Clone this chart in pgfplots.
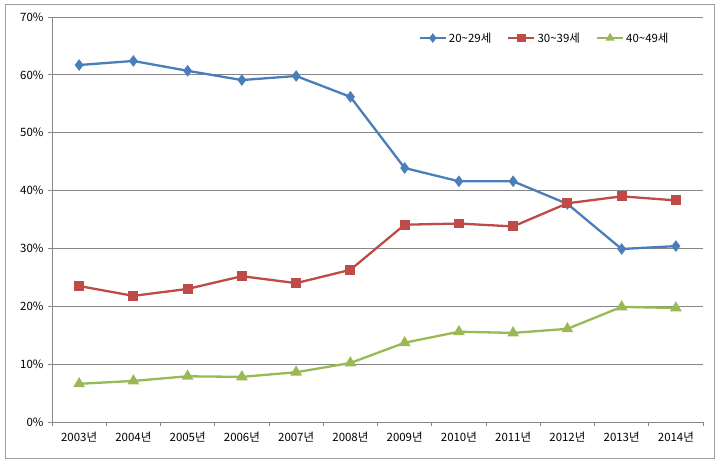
\documentclass[border=0pt]{standalone}
\usepackage{pgfplots}
\pgfplotsset{compat=1.18}
\usepackage{fontspec}
\setmainfont{Noto Sans CJK KR}
\definecolor{cblue}{HTML}{4A7EBB}
\definecolor{cred}{HTML}{BE4B48}
\definecolor{cgreen}{HTML}{98B954}
\definecolor{cgrid}{HTML}{868686}
\begin{document}
\begin{tikzpicture}[x=1bp,y=1bp]
\path[use as bounding box] (0,0) rectangle (720,464);
\draw[color=cgrid!80, line width=0.8bp] (5,6) rectangle (714,460);
\begin{axis}[
  at={(52bp,42bp)}, anchor=south west,
  scale only axis, width=651bp, height=405bp,
  xmin=-0.5, xmax=11.5, ymin=0, ymax=70,
  axis x line*=bottom, axis y line*=left,
  axis line style={cgrid, line width=0.8bp, -},
  xtick={0,...,11},
  xticklabels={2003년,2004년,2005년,2006년,2007년,2008년,2009년,2010년,2011년,2012년,2013년,2014년},
  major x tick style={draw=none},
  minor xtick={-0.5,0.5,...,11.5},
  minor x tick style={cgrid, line width=0.8bp},
  minor tick length=4bp,
  ytick={0,10,...,70},
  yticklabel={\pgfmathprintnumber{\tick}\%},
  major y tick style={cgrid, line width=0.8bp},
  major tick length=4bp,
  tick align=outside,
  ymajorgrids,
  grid style={cgrid, line width=0.8bp},
  /pgf/number format/assume math mode=true,
  tick label style={font=\fontsize{11.5}{13}\selectfont, text=black},
  xticklabel style={yshift=-3bp},
  yticklabel style={xshift=-1bp},
  legend columns=3,
  legend style={draw=none, fill=none, at={(0.955,0.948)}, anchor=east,
    font=\fontsize{11.5}{13}\selectfont,
    /tikz/every even column/.append style={column sep=14bp}},
  legend image code/.code={\draw[mark repeat=2,mark phase=2,#1,mark size=3bp] plot coordinates {(0bp,0bp) (13bp,0bp) (26bp,0bp)};},
  every axis plot/.append style={line width=2.3bp},
]
\addplot[cblue, mark=diamond*, mark size=4bp, mark options={solid}] coordinates {
(0,61.7) (1,62.4) (2,60.7) (3,59.1) (4,59.8) (5,56.2) (6,43.9) (7,41.6) (8,41.6) (9,37.7) (10,29.9) (11,30.4)};
\addlegendentry{20\textasciitilde29세}
\addplot[cred, mark=square*, mark size=3.8bp, mark options={solid}] coordinates {
(0,23.5) (1,21.8) (2,23.0) (3,25.2) (4,24.0) (5,26.3) (6,34.1) (7,34.3) (8,33.8) (9,37.8) (10,39.0) (11,38.3)};
\addlegendentry{30\textasciitilde39세}
\addplot[cgreen, mark=triangle*, mark size=4.5bp, mark options={solid}] coordinates {
(0,6.6) (1,7.1) (2,7.9) (3,7.8) (4,8.6) (5,10.2) (6,13.7) (7,15.6) (8,15.4) (9,16.1) (10,19.9) (11,19.7)};
\addlegendentry{40\textasciitilde49세}
\end{axis}
\end{tikzpicture}
\end{document}
